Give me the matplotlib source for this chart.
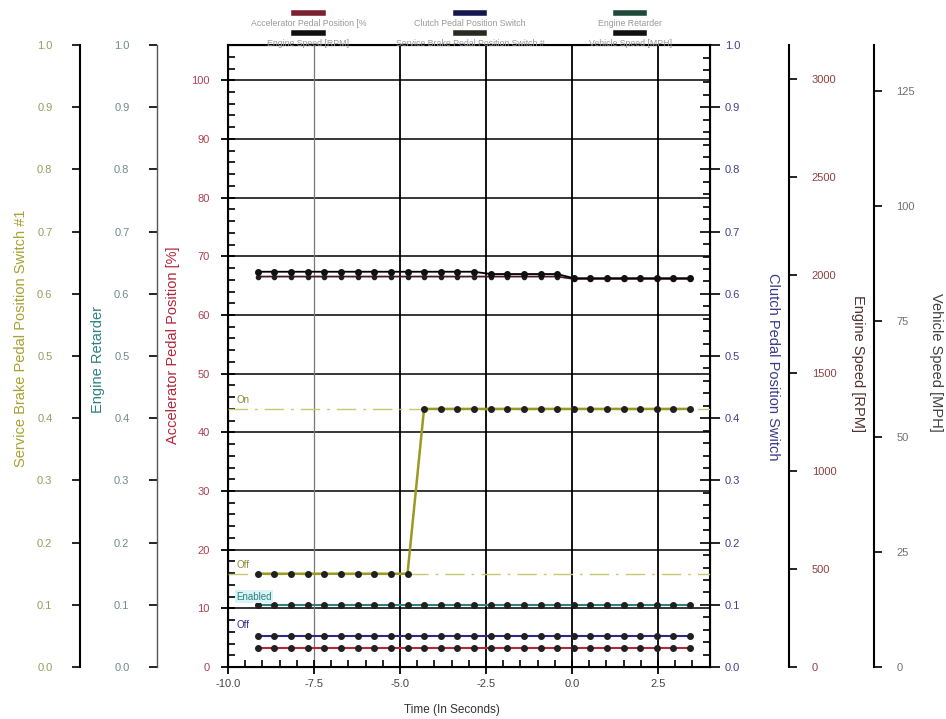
import matplotlib.pyplot as plt
from matplotlib.lines import Line2D
from matplotlib.ticker import MultipleLocator

plt.rcParams['font.family'] = ['Liberation Sans', 'DejaVu Sans']

# sample times (s)
time_s = [-9.13, -8.65, -8.16, -7.68, -7.20, -6.71, -6.23, -5.75, -5.26,
          -4.78, -4.30, -3.81, -3.33, -2.85, -2.36, -1.88, -1.40, -0.91,
          -0.43, 0.05, 0.54, 1.02, 1.50, 1.99, 2.47, 2.95, 3.43]

accel_pct = [3.2] * 27
clutch_sw = [0.05] * 27
retarder = [0.1] * 27
brake_sw = [0.15] * 10 + [0.415] * 17
engine_rpm = [1992] * 19 + [1980] * 8
vehicle_mph = [85.8] * 14 + [85.3] * 5 + [84.4] * 8

brake_levels = [0.15, 0.415]
brake_level_text = ['Off', 'On']

x_ticks = [-10.0, -7.5, -5.0, -2.5, 0.0, 2.5]

legend_rows = [
    [('Accelerator Pedal Position [%', '#7a2030'),
     ('Clutch Pedal Position Switch', '#151550'),
     ('Engine Retarder', '#1f4a3a')],
    [('Engine Speed [RPM]', '#101010'),
     ('Service Brake Pedal Position Switch #', '#2a2a22'),
     ('Vehicle Speed [MPH]', '#101010')],
]

C_BRAKE = '#9a9a20'
C_RET = '#2f8080'
C_ACC = '#b02838'
C_CLUTCH = '#2a2a88'

fig = plt.figure(figsize=(9.46, 7.19), dpi=100)
ax = fig.add_axes([0.241, 0.0723, 0.509, 0.865])


def side_axis(pos, side, ylim, major, color_ticks, spine_color='black', lw=1.5):
    a = ax.twinx()
    for s in a.spines.values():
        s.set_visible(False)
    a.spines[side].set_visible(True)
    a.spines[side].set_position(('axes', pos))
    a.spines[side].set_color(spine_color)
    a.spines[side].set_linewidth(lw)
    a.yaxis.set_ticks_position(side)
    a.set_ylim(*ylim)
    a.yaxis.set_major_locator(MultipleLocator(major))
    a.tick_params(axis='y', direction='out', length=6, width=1.2,
                  labelsize=8, labelcolor=color_ticks, pad=10)
    return a


# main axis: accelerator pedal
ax.set_xlim(-10, 4)
ax.set_ylim(0, 106)
ax.yaxis.set_major_locator(MultipleLocator(10))
ax.yaxis.set_minor_locator(MultipleLocator(2))
ax.set_xticks(x_ticks)
ax.set_xticklabels([f'{v:.1f}' for v in x_ticks])
ax.xaxis.set_minor_locator(MultipleLocator(0.5))
ax.tick_params(axis='y', which='major', direction='inout', length=10, width=1.3,
               labelsize=8, labelcolor='#b04050', pad=8)
ax.tick_params(axis='y', which='minor', direction='in', length=5, width=1.2)
ax.tick_params(axis='x', which='major', direction='inout', length=10, width=1.3,
               labelsize=8, labelcolor='#444444')
ax.tick_params(axis='x', which='minor', direction='in', length=5, width=1.2)
for s in ax.spines.values():
    s.set_linewidth(1.5)
for yv in range(10, 101, 10):
    ax.axhline(yv, color='black', lw=1.1, zorder=0)
for xv in x_ticks[1:]:
    ax.axvline(xv, color='#777777' if xv == -7.5 else 'black',
               lw=0.9 if xv == -7.5 else 1.3, zorder=0)
ax.plot(time_s, accel_pct, color=C_ACC, lw=1.5, marker='o',
        ms=4, mfc='#202020', mec='#202020', zorder=3)

# clutch pedal switch (right spine of main axes)
ax_cl = ax.twinx()
ax_cl.set_ylim(0, 1)
ax_cl.yaxis.set_major_locator(MultipleLocator(0.1))
ax_cl.yaxis.set_minor_locator(MultipleLocator(0.02))
ax_cl.yaxis.set_major_formatter('{x:.1f}')
ax_cl.tick_params(axis='y', which='major', direction='inout', length=14, width=1.2,
                  labelsize=8, labelcolor='#404088', pad=4)
ax_cl.tick_params(axis='y', which='minor', direction='in', length=5, width=1.2)
ax_cl.plot(time_s, clutch_sw, color=C_CLUTCH, lw=1.5, marker='o',
           ms=4, mfc='#202020', mec='#202020', zorder=3)
ax_cl.text(-9.75, 0.062, 'Off', color=C_CLUTCH, fontsize=7)

# left side axes
ax_br = side_axis(-0.307, 'left', (0, 1), 0.1, '#9a9a60')
ax_br.yaxis.set_major_formatter('{x:.1f}')
ax_br.tick_params(axis='y', pad=14)
for lvl, txt in zip(brake_levels, brake_level_text):
    ax_br.axhline(lvl, color='#c8c870', lw=1.0, ls='-.', dashes=(14, 5, 2, 5))
    ax_br.text(-9.75, lvl + 0.01, txt, color='#8a8a30', fontsize=7)
ax_br.plot(time_s, brake_sw, color=C_BRAKE, lw=1.8, marker='o',
           ms=4, mfc='#202020', mec='#202020', zorder=3)

ax_rt = side_axis(-0.147, 'left', (0, 1), 0.1, '#6f8a8a', spine_color='#555555', lw=1.0)
ax_rt.yaxis.set_major_formatter('{x:.1f}')
ax_rt.tick_params(axis='y', pad=14)
ax_rt.plot(time_s, retarder, color=C_RET, lw=1.5, marker='o',
           ms=4, mfc='#202020', mec='#202020', zorder=3)
ax_rt.text(-9.75, 0.108, 'Enabled', color=C_RET, fontsize=7,
           bbox=dict(facecolor='#d8f4f4', edgecolor='none', pad=1))

# right side axes
ax_rpm = side_axis(1.166, 'right', (0, 3173), 500, '#904040')
ax_rpm.plot(time_s, engine_rpm, color='#4a1525', lw=1.3, marker='o',
            ms=3, mfc='#202020', mec='#202020', zorder=3)

ax_mph = side_axis(1.342, 'right', (0, 135), 25, '#707070')
ax_mph.plot(time_s, vehicle_mph, color='black', lw=1.3, marker='o',
            ms=4, mfc='#101010', mec='#101010', zorder=3)

# axis titles
fig.text(0.022, 0.53, 'Service Brake Pedal Position Switch #1', rotation=90,
         color='#a8a030', fontsize=10.5, ha='center', va='center')
fig.text(0.104, 0.50, 'Engine Retarder', rotation=90,
         color=C_RET, fontsize=10.5, ha='center', va='center')
fig.text(0.183, 0.52, 'Accelerator Pedal Position [%]', rotation=90,
         color=C_ACC, fontsize=10.5, ha='center', va='center')
fig.text(0.817, 0.49, 'Clutch Pedal Position Switch', rotation=270,
         color='#3a3a8a', fontsize=10.5, ha='center', va='center')
fig.text(0.907, 0.495, 'Engine Speed [RPM]', rotation=270,
         color='#503030', fontsize=10.5, ha='center', va='center')
fig.text(0.989, 0.496, 'Vehicle Speed [MPH]', rotation=270,
         color='#404040', fontsize=10.5, ha='center', va='center')
fig.text(0.478, 0.012, 'Time (In Seconds)', color='#333333', fontsize=8.5,
         ha='center', va='center')

# legend: swatch above each label
col_x = [0.326, 0.497, 0.666]
for r, row in enumerate(legend_rows):
    y_sw = 0.982 - r * 0.028
    for (label, col), cx in zip(row, col_x):
        fig.add_artist(Line2D([cx - 0.015, cx + 0.015], [y_sw, y_sw],
                              color=col, lw=4, transform=fig.transFigure))
        fig.text(cx, y_sw - 0.015, label, color='#999999', fontsize=6.3,
                 ha='center', va='center')

fig.savefig('out.png', dpi=100)
